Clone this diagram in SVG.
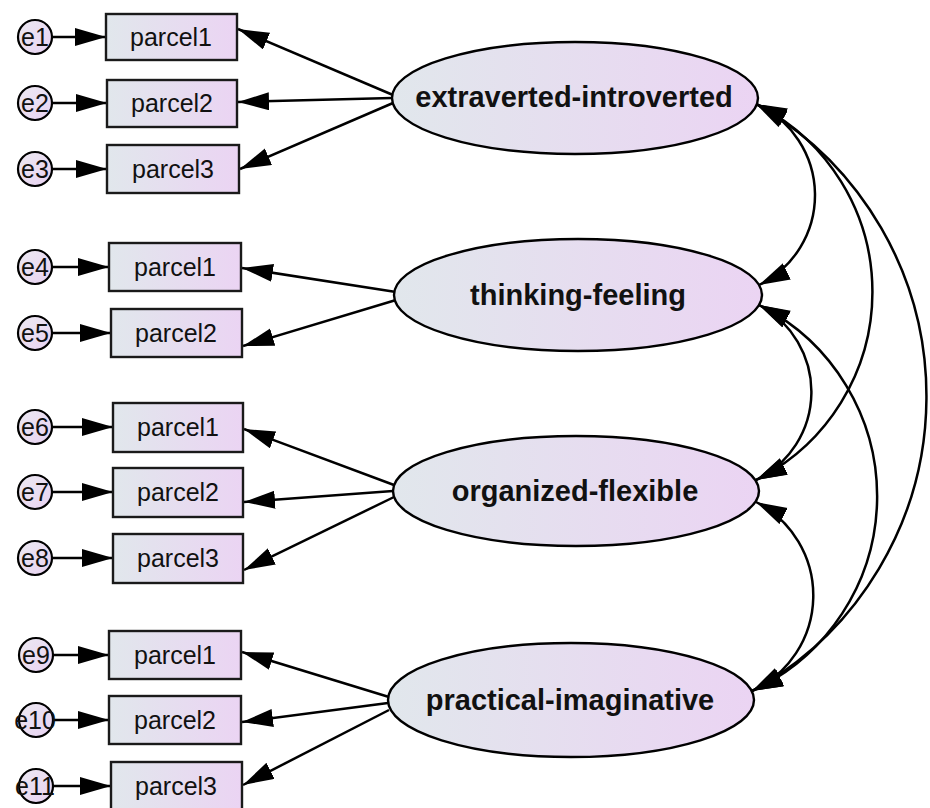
<svg xmlns="http://www.w3.org/2000/svg" width="930" height="808" viewBox="0 0 930 808">
<defs>
<linearGradient id="gfill" x1="0" y1="0" x2="1" y2="0">
<stop offset="0" stop-color="#e1e7ec"/>
<stop offset="1" stop-color="#ebd4f3"/>
</linearGradient>
<linearGradient id="cfill" x1="0" y1="0" x2="1" y2="1">
<stop offset="0" stop-color="#ece9f1"/>
<stop offset="1" stop-color="#e8d2f2"/>
</linearGradient>
<marker id="ah" markerUnits="userSpaceOnUse" markerWidth="32" markerHeight="19" refX="31" refY="9" orient="auto-start-reverse" viewBox="0 0 32 19">
<path d="M0,0 L31,9 L0,18 Z" fill="#000"/>
</marker>
<style>
.box{fill:url(#gfill);stroke:#1a1a1a;stroke-width:2.4}
.lat{fill:url(#gfill);stroke:#000;stroke-width:2.4}
.err{fill:url(#cfill);stroke:#000;stroke-width:2.2}
.lt{font-family:"Liberation Sans",Arial,sans-serif;font-size:25px;fill:#111;text-anchor:middle}
.et{font-family:"Liberation Sans",Arial,sans-serif;font-size:25px;fill:#111;text-anchor:middle}
.bt{font-family:"Liberation Sans",Arial,sans-serif;font-size:29px;font-weight:bold;fill:#111;text-anchor:middle}
.c{fill:none;stroke:#000;stroke-width:2.5;marker-end:url(#ah)}
.d{fill:none;stroke:#000;stroke-width:2.5;marker-start:url(#ah);marker-end:url(#ah)}
</style>
</defs>

<g id="connectors">
<path class="c" d="M52,37 L106,37"/>
<path class="c" d="M52,103 L107,103"/>
<path class="c" d="M52,169 L107,169"/>
<path class="c" d="M52,267 L109,267"/>
<path class="c" d="M52,333 L111,333"/>
<path class="c" d="M52,427 L113,427"/>
<path class="c" d="M52,492 L113,492"/>
<path class="c" d="M52,558 L113,558"/>
<path class="c" d="M53,655 L109,655"/>
<path class="c" d="M53,720 L109,720"/>
<path class="c" d="M53,786 L111,786"/>
<path class="c" d="M393,95 L238,29"/>
<path class="c" d="M392,98 L238,102"/>
<path class="c" d="M393,103 L240,169"/>
<path class="c" d="M396,292 L242,268"/>
<path class="c" d="M396,300 L243,346"/>
<path class="c" d="M394,485 L244,429"/>
<path class="c" d="M393,491 L244,502"/>
<path class="c" d="M394,497 L244,570"/>
<path class="c" d="M389,697 L242,652"/>
<path class="c" d="M388,703 L242,722"/>
<path class="c" d="M389,710 L243,785"/>
<path class="d" d="M756,104 A100,100 0 0 1 759,285"/>
<path class="d" d="M756,104 A210,210 0 0 1 756,480"/>
<path class="d" d="M756,104 A336,336 0 0 1 752,691"/>
<path class="d" d="M759,305 A98,98 0 0 1 756,480"/>
<path class="d" d="M759,305 A214,214 0 0 1 752,691"/>
<path class="d" d="M756,502 A105,105 0 0 1 752,691"/>
</g>

<g id="E1"><ellipse class="lat" cx="575" cy="98" rx="183" ry="56"/><text class="bt" x="574" y="107">extraverted-introverted</text></g>
<g id="E2"><ellipse class="lat" cx="578" cy="295" rx="184" ry="56"/><text class="bt" x="578" y="305">thinking-feeling</text></g>
<g id="E3"><ellipse class="lat" cx="576" cy="491" rx="183" ry="55"/><text class="bt" x="575" y="501">organized-flexible</text></g>
<g id="E4"><ellipse class="lat" cx="571" cy="700" rx="183" ry="57"/><text class="bt" x="570" y="710">practical-imaginative</text></g>

<g id="p1a"><rect class="box" x="106" y="14" width="131" height="46"/><text class="lt" x="171" y="46">parcel1</text></g>
<g id="p2a"><rect class="box" x="107" y="80" width="130" height="47"/><text class="lt" x="172" y="112">parcel2</text></g>
<g id="p3a"><rect class="box" x="107" y="145" width="132" height="48"/><text class="lt" x="173" y="178">parcel3</text></g>
<g id="p1b"><rect class="box" x="109" y="243" width="132" height="48"/><text class="lt" x="175" y="276">parcel1</text></g>
<g id="p2b"><rect class="box" x="111" y="309" width="131" height="48"/><text class="lt" x="176" y="342">parcel2</text></g>
<g id="p1c"><rect class="box" x="113" y="403" width="130" height="49"/><text class="lt" x="178" y="436">parcel1</text></g>
<g id="p2c"><rect class="box" x="113" y="468" width="130" height="49"/><text class="lt" x="178" y="501">parcel2</text></g>
<g id="p3c"><rect class="box" x="113" y="534" width="130" height="49"/><text class="lt" x="178" y="567">parcel3</text></g>
<g id="p1d"><rect class="box" x="109" y="631" width="132" height="48"/><text class="lt" x="175" y="664">parcel1</text></g>
<g id="p2d"><rect class="box" x="109" y="696" width="132" height="48"/><text class="lt" x="175" y="729">parcel2</text></g>
<g id="p3d"><rect class="box" x="111" y="762" width="131" height="48"/><text class="lt" x="176" y="795">parcel3</text></g>

<g id="e1"><circle class="err" cx="35" cy="37" r="17"/><text class="et" x="35" y="46">e1</text></g>
<g id="e2"><circle class="err" cx="35" cy="103" r="17"/><text class="et" x="35" y="112">e2</text></g>
<g id="e3"><circle class="err" cx="35" cy="169" r="17"/><text class="et" x="35" y="178">e3</text></g>
<g id="e4"><circle class="err" cx="35" cy="267" r="17"/><text class="et" x="35" y="276">e4</text></g>
<g id="e5"><circle class="err" cx="35" cy="333" r="17"/><text class="et" x="35" y="342">e5</text></g>
<g id="e6"><circle class="err" cx="35" cy="427" r="17"/><text class="et" x="35" y="436">e6</text></g>
<g id="e7"><circle class="err" cx="35" cy="492" r="17"/><text class="et" x="35" y="501">e7</text></g>
<g id="e8"><circle class="err" cx="35" cy="558" r="17"/><text class="et" x="35" y="567">e8</text></g>
<g id="e9"><circle class="err" cx="36" cy="655" r="17"/><text class="et" x="36" y="664">e9</text></g>
<g id="e10"><circle class="err" cx="36" cy="720" r="17"/><text class="et" x="35" y="729">e10</text></g>
<g id="e11"><circle class="err" cx="36" cy="786" r="17"/><text class="et" x="35" y="795">e11</text></g>
</svg>
